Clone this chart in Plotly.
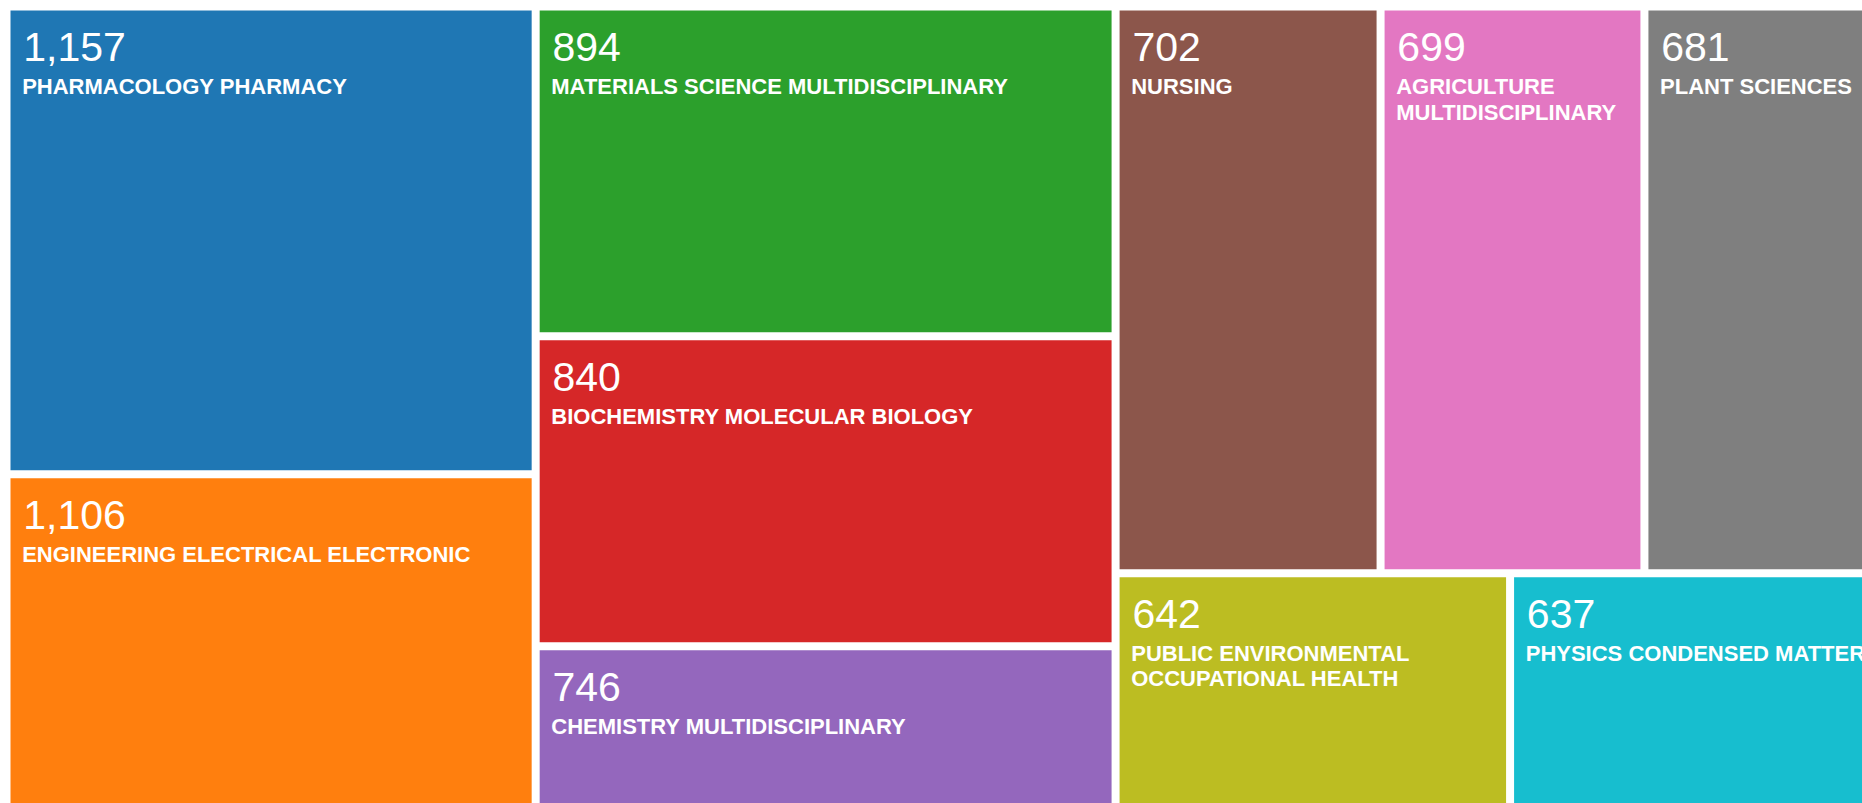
import plotly.graph_objects as go

# categorías y número de publicaciones
categorias = [
    "PHARMACOLOGY PHARMACY",
    "ENGINEERING ELECTRICAL ELECTRONIC",
    "MATERIALS SCIENCE MULTIDISCIPLINARY",
    "BIOCHEMISTRY MOLECULAR BIOLOGY",
    "CHEMISTRY MULTIDISCIPLINARY",
    "NURSING",
    "AGRICULTURE MULTIDISCIPLINARY",
    "PLANT SCIENCES",
    "PUBLIC ENVIRONMENTAL OCCUPATIONAL HEALTH",
    "PHYSICS CONDENSED MATTER",
]
# etiquetas tal como se parten en las cajas
lineas_etiqueta = [
    ["PHARMACOLOGY PHARMACY"],
    ["ENGINEERING ELECTRICAL ELECTRONIC"],
    ["MATERIALS SCIENCE MULTIDISCIPLINARY"],
    ["BIOCHEMISTRY MOLECULAR BIOLOGY"],
    ["CHEMISTRY MULTIDISCIPLINARY"],
    ["NURSING"],
    ["AGRICULTURE", "MULTIDISCIPLINARY"],
    ["PLANT SCIENCES"],
    ["PUBLIC ENVIRONMENTAL", "OCCUPATIONAL HEALTH"],
    ["PHYSICS CONDENSED MATTER"],
]
valores = [1157, 1106, 894, 840, 746, 702, 699, 681, 642, 637]

colores = [
    "#1f77b4", "#ff7f0e", "#2ca02c", "#d62728", "#9467bd",
    "#8c564b", "#e377c2", "#7f7f7f", "#bcbd22", "#17becf",
]

# espaciadores para separar el texto del borde de cada caja
SP_V = "<span style='font-size:64px'>\u200a</span>"
SP_H1 = "<span style='font-size:25px'>\u00a0</span>"
SP_H2 = "<span style='font-size:40px'>\u00a0</span>"

textos = [
    "<br>".join(SP_H2 + "<span style='font-size:22px'><b>" + l + "</b></span>" for l in lineas)
    for lineas in lineas_etiqueta
]

fig = go.Figure(go.Treemap(
    labels=categorias,
    parents=[""] * len(categorias),
    values=valores,
    text=textos,
    texttemplate=SP_V + SP_H1 + "<sup><span style='font-size:41px'>%{value:,}</span></sup><br>%{text}",
    textposition="top left",
    textfont=dict(family="Liberation Sans", size=19.5, color="white"),
    marker=dict(colors=colores, line=dict(color="white", width=5),
                pad=dict(t=0, l=0, r=0, b=0)),
    tiling=dict(packing="squarify", squarifyratio=1.618034),
    pathbar=dict(visible=False),
    hoverinfo="label+value",
    sort=True,
))

fig.update_layout(
    width=1892,
    height=912,
    margin=dict(l=0, r=0, t=0, b=0),
    paper_bgcolor="white",
    showlegend=False,
)

# el gráfico es más grande que la ventana: se fija arriba a la izquierda y se recorta
fig.write_html(
    "out.html",
    default_width="1892px",
    default_height="912px",
    post_script=(
        "var d=document.getElementById('{plot_id}');"
        "d.style.position='fixed';d.style.left='8px';d.style.top='8px';"
        "document.documentElement.style.overflow='hidden';"
        "document.body.style.overflow='hidden';"
    ),
)
